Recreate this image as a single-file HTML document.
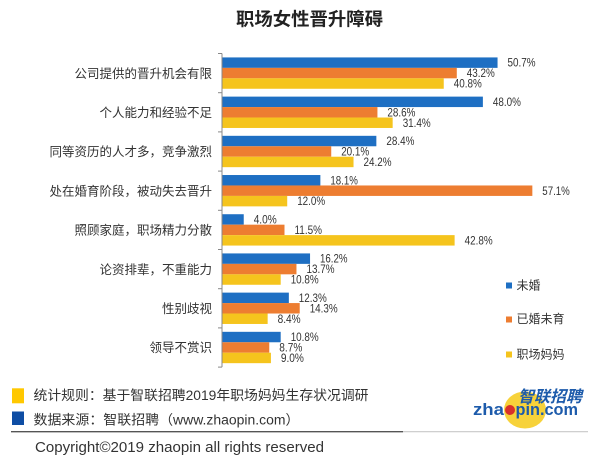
<!DOCTYPE html>
<html><head><meta charset="utf-8"><style>
html,body{margin:0;padding:0;background:#fff;}
svg{display:block;}
text{font-family:"Liberation Sans","Noto Sans CJK SC",sans-serif;}
</style></head><body>
<svg width="600" height="466" viewBox="0 0 600 466" xmlns="http://www.w3.org/2000/svg">
<rect width="600" height="466" fill="#fff"/>
<text x="236" y="25.3" font-size="18" font-weight="bold" fill="#222" textLength="147" lengthAdjust="spacingAndGlyphs">职场女性晋升障碍</text>

<g fill="#1E6FC3">
<rect x="222" y="57.42" width="275.55" height="10.45"/>
<rect x="222" y="96.62" width="260.88" height="10.45"/>
<rect x="222" y="135.82" width="154.35" height="10.45"/>
<rect x="222" y="175.02" width="98.37" height="10.45"/>
<rect x="222" y="214.22" width="21.74" height="10.45"/>
<rect x="222" y="253.42" width="88.05" height="10.45"/>
<rect x="222" y="292.62" width="66.85" height="10.45"/>
<rect x="222" y="331.82" width="58.70" height="10.45"/>
</g>
<g fill="#ED7D31">
<rect x="222" y="67.87" width="234.79" height="10.45"/>
<rect x="222" y="107.07" width="155.44" height="10.45"/>
<rect x="222" y="146.27" width="109.24" height="10.45"/>
<rect x="222" y="185.47" width="310.34" height="10.45"/>
<rect x="222" y="224.67" width="62.50" height="10.45"/>
<rect x="222" y="263.87" width="74.46" height="10.45"/>
<rect x="222" y="303.07" width="77.72" height="10.45"/>
<rect x="222" y="342.27" width="47.28" height="10.45"/>
</g>
<g fill="#F5C41D">
<rect x="222" y="78.32" width="221.75" height="10.45"/>
<rect x="222" y="117.52" width="170.66" height="10.45"/>
<rect x="222" y="156.72" width="131.53" height="10.45"/>
<rect x="222" y="195.92" width="65.22" height="10.45"/>
<rect x="222" y="235.12" width="232.62" height="10.45"/>
<rect x="222" y="274.32" width="58.70" height="10.45"/>
<rect x="222" y="313.52" width="45.65" height="10.45"/>
<rect x="222" y="352.72" width="48.92" height="10.45"/>
</g>

<g stroke="#888" stroke-width="1" fill="none">
<line x1="222" y1="53.5" x2="222" y2="367.1"/>
<line x1="218" y1="53.5" x2="222" y2="53.5"/>
<line x1="218" y1="92.7" x2="222" y2="92.7"/>
<line x1="218" y1="131.9" x2="222" y2="131.9"/>
<line x1="218" y1="171.1" x2="222" y2="171.1"/>
<line x1="218" y1="210.3" x2="222" y2="210.3"/>
<line x1="218" y1="249.5" x2="222" y2="249.5"/>
<line x1="218" y1="288.7" x2="222" y2="288.7"/>
<line x1="218" y1="327.9" x2="222" y2="327.9"/>
<line x1="218" y1="367.1" x2="222" y2="367.1"/>
</g>

<g font-size="12.5" fill="#333" text-anchor="end">
<text x="212" y="77.8">公司提供的晋升机会有限</text>
<text x="212" y="117">个人能力和经验不足</text>
<text x="212" y="156.2">同等资历的人才多，竞争激烈</text>
<text x="212" y="195.4">处在婚育阶段，被动失去晋升</text>
<text x="212" y="234.6">照顾家庭，职场精力分散</text>
<text x="212" y="273.8">论资排辈，不重能力</text>
<text x="212" y="313">性别歧视</text>
<text x="212" y="352.2">领导不赏识</text>
</g>

<g font-size="11.5" fill="#333" lengthAdjust="spacingAndGlyphs">
<text x="507.5" y="66.7" textLength="28" lengthAdjust="spacingAndGlyphs">50.7%</text>
<text x="466.8" y="77.2" textLength="28" lengthAdjust="spacingAndGlyphs">43.2%</text>
<text x="453.8" y="87.6" textLength="28" lengthAdjust="spacingAndGlyphs">40.8%</text>
<text x="492.9" y="105.9" textLength="28" lengthAdjust="spacingAndGlyphs">48.0%</text>
<text x="387.4" y="116.4" textLength="28" lengthAdjust="spacingAndGlyphs">28.6%</text>
<text x="402.7" y="126.8" textLength="28" lengthAdjust="spacingAndGlyphs">31.4%</text>
<text x="386.4" y="145.1" textLength="28" lengthAdjust="spacingAndGlyphs">28.4%</text>
<text x="341.2" y="155.6" textLength="28" lengthAdjust="spacingAndGlyphs">20.1%</text>
<text x="363.5" y="166" textLength="28" lengthAdjust="spacingAndGlyphs">24.2%</text>
<text x="330.4" y="184.3" textLength="27.5" lengthAdjust="spacingAndGlyphs">18.1%</text>
<text x="542.3" y="194.8" textLength="27.5" lengthAdjust="spacingAndGlyphs">57.1%</text>
<text x="297.2" y="205.2" textLength="28" lengthAdjust="spacingAndGlyphs">12.0%</text>
<text x="253.7" y="223.5" textLength="23" lengthAdjust="spacingAndGlyphs">4.0%</text>
<text x="294.5" y="234" textLength="27.5" lengthAdjust="spacingAndGlyphs">11.5%</text>
<text x="464.6" y="244.4" textLength="28" lengthAdjust="spacingAndGlyphs">42.8%</text>
<text x="320" y="262.7" textLength="27.5" lengthAdjust="spacingAndGlyphs">16.2%</text>
<text x="306.5" y="273.2" textLength="28" lengthAdjust="spacingAndGlyphs">13.7%</text>
<text x="290.7" y="283.6" textLength="28" lengthAdjust="spacingAndGlyphs">10.8%</text>
<text x="298.8" y="301.9" textLength="28" lengthAdjust="spacingAndGlyphs">12.3%</text>
<text x="309.7" y="312.4" textLength="28" lengthAdjust="spacingAndGlyphs">14.3%</text>
<text x="277.6" y="322.8" textLength="23" lengthAdjust="spacingAndGlyphs">8.4%</text>
<text x="290.7" y="341.1" textLength="28" lengthAdjust="spacingAndGlyphs">10.8%</text>
<text x="279.3" y="351.6" textLength="23" lengthAdjust="spacingAndGlyphs">8.7%</text>
<text x="280.9" y="362" textLength="23" lengthAdjust="spacingAndGlyphs">9.0%</text>
</g>

<rect x="506" y="282.5" width="6" height="6" fill="#1E6FC3"/>
<rect x="506" y="316.5" width="6" height="6" fill="#ED7D31"/>
<rect x="506" y="351.5" width="6" height="6" fill="#F5C41D"/>
<g font-size="12" fill="#333">
<text x="516.5" y="289.6">未婚</text>
<text x="516.5" y="323.2">已婚未育</text>
<text x="516.5" y="358.3">职场妈妈</text>
</g>

<rect x="12" y="388.3" width="12" height="15" fill="#FFC800"/>
<rect x="12" y="411.5" width="12" height="13.5" fill="#0E4DA4"/>
<text x="33.5" y="400.2" font-size="13.5" fill="#333" textLength="335" lengthAdjust="spacingAndGlyphs">统计规则：基于智联招聘2019年职场妈妈生存状况调研</text>
<text x="33.5" y="424.4" font-size="13.5" fill="#333" textLength="266" lengthAdjust="spacingAndGlyphs">数据来源：智联招聘（www.zhaopin.com）</text>
<line x1="11" y1="431.7" x2="403" y2="431.7" stroke="#555" stroke-width="1.4"/>
<line x1="403" y1="431.7" x2="588" y2="431.7" stroke="#c8c8c8" stroke-width="1.2"/>
<text x="35" y="452" font-size="14.5" fill="#333" textLength="289" lengthAdjust="spacingAndGlyphs">Copyright©2019 zhaopin all rights reserved</text>

<ellipse cx="525" cy="410" rx="21" ry="18.5" fill="#F7D23A"/>
<text x="518" y="402" font-size="16" font-weight="bold" font-style="italic" fill="#1D5BAB" textLength="64" lengthAdjust="spacingAndGlyphs">智联招聘</text>
<text x="473" y="415" font-size="17" font-weight="bold" fill="#1D5BAB" textLength="31" lengthAdjust="spacingAndGlyphs">zha</text>
<circle cx="510" cy="410" r="5" fill="#D9302A"/>
<text x="515.5" y="415" font-size="17" font-weight="bold" fill="#1D5BAB" textLength="62.5" lengthAdjust="spacingAndGlyphs">pin.com</text>
</svg>
</body></html>
